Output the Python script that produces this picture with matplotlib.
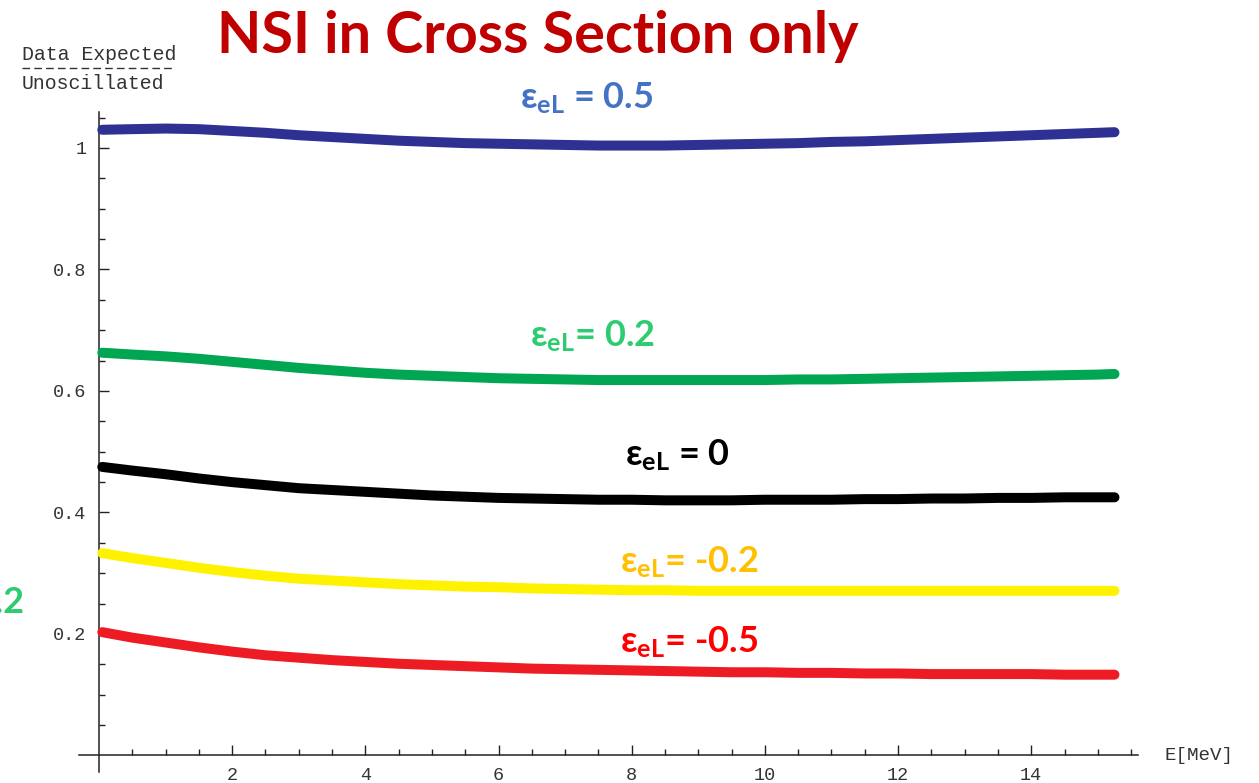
import matplotlib
matplotlib.use("Agg")
import matplotlib.pyplot as plt
from matplotlib.lines import Line2D
from matplotlib.ticker import FixedLocator

# Energy grid (MeV) and ratio Data Expected / Unoscillated for each NSI coupling
energy = [0.05, 0.5, 1, 1.5, 2, 2.5, 3, 3.5, 4, 4.5, 5, 5.5, 6, 6.5, 7, 7.5,
          8, 8.5, 9, 9.5, 10, 10.5, 11, 11.5, 12, 12.5, 13, 13.5, 14, 14.5, 15, 15.25]

ratio_p05 = [1.030, 1.031, 1.032, 1.031, 1.028, 1.025, 1.021, 1.018, 1.015, 1.012,
             1.010, 1.008, 1.007, 1.006, 1.005, 1.004, 1.004, 1.004, 1.005, 1.006,
             1.007, 1.008, 1.010, 1.011, 1.013, 1.015, 1.017, 1.019, 1.021, 1.023,
             1.025, 1.026]
ratio_p02 = [0.663, 0.660, 0.657, 0.653, 0.648, 0.643, 0.638, 0.634, 0.630, 0.627,
             0.625, 0.623, 0.621, 0.620, 0.619, 0.618, 0.618, 0.618, 0.618, 0.618,
             0.618, 0.619, 0.619, 0.620, 0.621, 0.622, 0.623, 0.624, 0.625, 0.626,
             0.627, 0.628]
ratio_0 = [0.475, 0.469, 0.463, 0.456, 0.450, 0.445, 0.440, 0.437, 0.434, 0.431,
           0.428, 0.426, 0.424, 0.423, 0.422, 0.421, 0.421, 0.420, 0.420, 0.420,
           0.421, 0.421, 0.421, 0.422, 0.422, 0.423, 0.423, 0.424, 0.424, 0.425,
           0.425, 0.425]
ratio_m02 = [0.333, 0.325, 0.317, 0.309, 0.302, 0.296, 0.291, 0.288, 0.285, 0.282,
             0.280, 0.278, 0.277, 0.275, 0.274, 0.273, 0.272, 0.272, 0.271, 0.271,
             0.271, 0.271, 0.271, 0.271, 0.271, 0.271, 0.271, 0.271, 0.271, 0.271,
             0.271, 0.271]
ratio_m05 = [0.203, 0.194, 0.186, 0.178, 0.171, 0.165, 0.161, 0.157, 0.154, 0.151,
             0.149, 0.147, 0.145, 0.143, 0.142, 0.141, 0.140, 0.139, 0.138, 0.137,
             0.137, 0.136, 0.136, 0.135, 0.135, 0.134, 0.134, 0.134, 0.134, 0.133,
             0.133, 0.133]

series = [ratio_p05, ratio_p02, ratio_0, ratio_m02, ratio_m05]
curve_colors = ["#2e3192", "#00a651", "#000000", "#fff200", "#ed1c24"]
label_texts = ["0.5", "0.2", "0", "-0.2", "-0.5"]
label_eq = [" = ", "= ", " = ", "= ", "= "]
label_colors = ["#4472c4", "#2ecc71", "#000000", "#ffc000", "#ff0000"]
label_pos = [(6.32, 1.066), (6.47, 0.674), (7.90, 0.477), (7.82, 0.302), (7.82, 0.170)]

x_major = [2, 4, 6, 8, 10, 12, 14]
y_major = [0.2, 0.4, 0.6, 0.8, 1.0]
y_major_labels = ["0.2", "0.4", "0.6", "0.8", "1"]

plt.rcParams["mathtext.fontset"] = "custom"
plt.rcParams["mathtext.rm"] = "Lato"
plt.rcParams["mathtext.bf"] = "Lato:bold"
plt.rcParams["mathtext.it"] = "Lato:italic"

fig = plt.figure(figsize=(12.59, 7.83), dpi=100)
ax = fig.add_axes([0, 0, 1, 1])
ax.set_facecolor("white")
ax.set_xlim(-1.486, 17.42)
ax.set_ylim(-0.0453, 1.2436)

for vals, col in zip(series, curve_colors):
    ax.plot(energy, vals, color=col, lw=7.2, solid_capstyle="round",
            solid_joinstyle="round", zorder=3)

# Axes crossing at the origin, Mathematica style
for side in ("top", "right"):
    ax.spines[side].set_visible(False)
ax.spines["left"].set_position(("data", 0))
ax.spines["bottom"].set_position(("data", 0))
ax.spines["left"].set_bounds(-0.028, 1.06)
ax.spines["bottom"].set_bounds(-0.3, 15.6)
for side in ("left", "bottom"):
    ax.spines[side].set_linewidth(1.1)
    ax.spines[side].set_color("#222222")

ax.xaxis.set_major_locator(FixedLocator(x_major))
ax.xaxis.set_minor_locator(FixedLocator([v * 0.5 for v in range(1, 32) if v % 4]))
ax.yaxis.set_major_locator(FixedLocator(y_major))
ax.set_yticklabels(y_major_labels)
ax.yaxis.set_minor_locator(FixedLocator([v * 0.05 for v in range(1, 22) if v % 4]))
ax.set_xticklabels([str(v) for v in x_major])

ax.tick_params(which="both", direction="in", color="#222222", width=1.0,
               labelsize=13.3, labelcolor="#333333")
ax.tick_params(which="major", length=7)
ax.tick_params(which="minor", length=4.5)
ax.tick_params(axis="x", pad=8)
ax.tick_params(axis="y", pad=9)
for lab in ax.get_xticklabels() + ax.get_yticklabels():
    lab.set_family("Liberation Mono")

ax.text(16.0, 0.0, "E[MeV]", family="Liberation Mono", fontsize=13.8,
        color="#333333", ha="left", va="center")

# Axis title in the corner: ratio written as a fraction with a dashed bar
ax.text(-1.155, 1.145, "Data Expected", family="Liberation Mono", fontsize=14.3,
        color="#333333", ha="left", va="baseline")
ax.text(-1.155, 1.097, "Unoscillated", family="Liberation Mono", fontsize=14.3,
        color="#333333", ha="left", va="baseline")
fig.add_artist(Line2D([22 / 1259, 175 / 1259], [1 - 68 / 783, 1 - 68 / 783],
                      transform=fig.transFigure, color="#333333", lw=1.0,
                      dashes=(5.5, 3.0)))

# Curve labels
for (lx, ly), val, eq, col in zip(label_pos, label_texts, label_eq, label_colors):
    ax.text(lx, ly, "ε$_{\\mathbf{eL}}$" + eq + val, family=["Lato", "Open Sans", "DejaVu Sans"],
            fontsize=26, fontweight="bold", color=col, ha="left", va="baseline")

# Partially visible label at the left edge
ax.text(-1.12, 0.2346, "= 0.2", family="Lato", fontsize=26, fontweight="bold",
        color="#2ecc71", ha="right", va="baseline")

fig.text(0.427, 1 - 53 / 783, "NSI in Cross Section only", family="Lato",
         fontsize=41.5, fontweight="bold", color="#c00000", ha="center", va="baseline")

fig.savefig("out.png", dpi=100, facecolor="white")
